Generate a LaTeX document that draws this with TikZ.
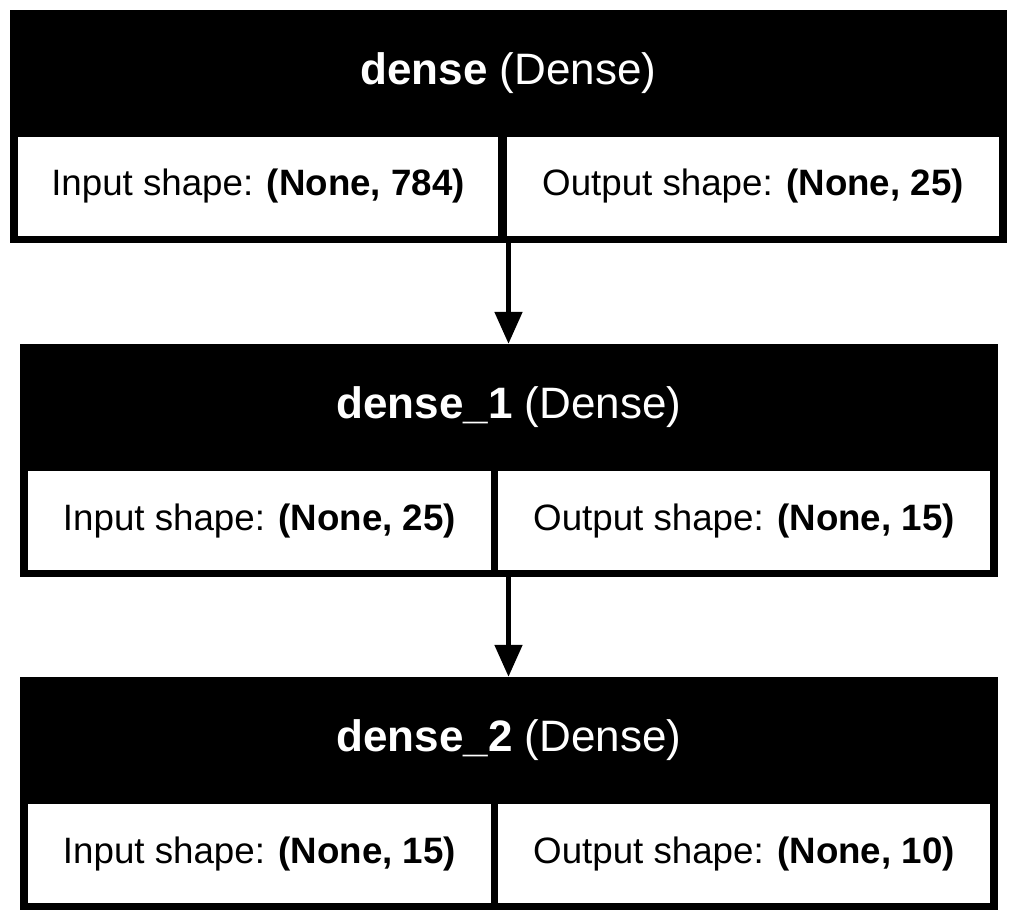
\documentclass[tikz,border=0pt]{standalone}
\usepackage{fontspec}
\setmainfont{Liberation Sans}
\usetikzlibrary{arrows.meta,positioning,calc}
\tikzstyle{layer}=[draw=none,fill=black,inner sep=0pt,minimum height=233pt]
\tikzstyle{head}=[text=white,inner sep=0pt,font=\fontsize{44}{52}\selectfont]
\tikzstyle{cell}=[fill=white,inner sep=0pt,minimum height=99pt,font=\fontsize{36.7}{44}\selectfont]
\tikzstyle{flow}=[line width=5pt,-{Triangle[width=27pt,length=32pt]}]

\begin{document}
\begin{tikzpicture}[x=1pt,y=-1pt]
    \useasboundingbox (0,0) rectangle (1017,922);
    % dense
    \node [layer,minimum width=997pt] (dense) at (508.5,126.5) {};
    \node [head] (dense head) at (508.5,73.5) {\textbf{dense} (Dense)};
    \node [cell,minimum width=480pt] (dense in) at (258,186) {Input shape: \textbf{(None, 784)}};
    \node [cell,minimum width=492pt] (dense out) at (753,186) {Output shape: \textbf{(None, 25)}};
    % dense_1
    \node [layer,minimum width=978pt] (dense1) at (509,460.5) {};
    \node [head] (dense1 head) at (509,407.5) {\textbf{dense\_1} (Dense)};
    \node [cell,minimum width=463pt] (dense1 in) at (259.5,520.5) {Input shape: \textbf{(None, 25)}};
    \node [cell,minimum width=492pt] (dense1 out) at (744,520.5) {Output shape: \textbf{(None, 15)}};
    % dense_2
    \node [layer,minimum width=978pt] (dense2) at (509,793.5) {};
    \node [head] (dense2 head) at (509,740.5) {\textbf{dense\_2} (Dense)};
    \node [cell,minimum width=463pt] (dense2 in) at (259.5,853.5) {Input shape: \textbf{(None, 15)}};
    \node [cell,minimum width=492pt] (dense2 out) at (744,853.5) {Output shape: \textbf{(None, 10)}};
    % connections
    \draw [flow] (dense.south) -- (dense.south |- dense1.north);
    \draw [flow] (dense1.south -| dense.south) -- (dense.south |- dense2.north);
\end{tikzpicture}
\end{document}
